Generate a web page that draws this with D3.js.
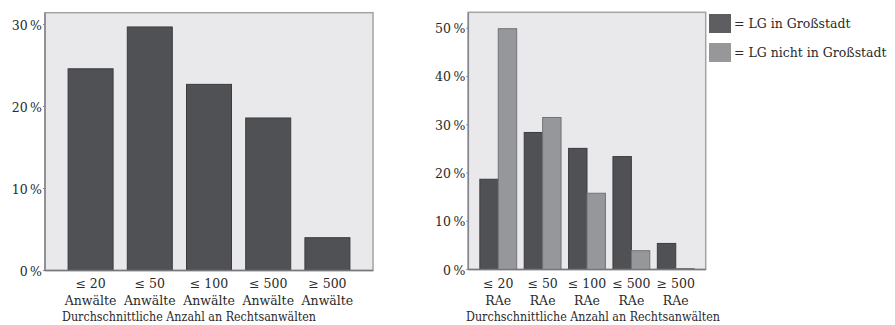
<!DOCTYPE html>
<html>
<head>
<meta charset="utf-8">
<script src="https://cdn.jsdelivr.net/npm/d3@7"></script>
<style>
  body { margin: 0; background: #fff; }
  text { font-family: "DejaVu Serif", serif; fill: #2a2a2a; }
</style>
</head>
<body>
<div id="chart-area"></div>
<script>
// left chart: share of firms by average number of lawyers
const leftCats = ['≤ 20', '≤ 50', '≤ 100', '≤ 500', '≥ 500'];
const leftValues = [24.6, 29.7, 22.7, 18.6, 4.0];
const leftTicks = [0, 10, 20, 30];

// right chart: LG in Großstadt vs. nicht in Großstadt
const rightCats = ['≤ 20', '≤ 50', '≤ 100', '≤ 500', '≥ 500'];
const rightGross = [18.7, 28.4, 25.1, 23.4, 5.4];
const rightNicht = [49.9, 31.5, 15.8, 3.9, 0.2];
const rightTicks = [0, 10, 20, 30, 40, 50];

const legendLabels = ['= LG in Großstadt', '= LG nicht in Großstadt'];
const xTitle = 'Durchschnittliche Anzahl an Rechtsanwälten';

const dark = '#505155', darkStroke = '#3b3c3f';
const light = '#96979b', lightStroke = '#727378';
const fs = 12.5;
const pct = d => d + '\u202F%';

const svg = d3.select('#chart-area').append('svg')
  .attr('width', 895)
  .attr('height', 325);

function frame(g, x0, x1, y0, y1) {
  g.append('rect')
    .attr('x', x0).attr('y', y0)
    .attr('width', x1 - x0).attr('height', y1 - y0)
    .attr('fill', '#e9e9eb')
    .attr('stroke', '#a3a3a6')
    .attr('stroke-width', 1.5);
}

function yAxis(g, y, ticks, x0) {
  g.append('line')
    .attr('x1', x0).attr('x2', x0)
    .attr('y1', y.range()[1]).attr('y2', y.range()[0])
    .attr('stroke', '#85858a').attr('stroke-width', 1.5);
  ticks.forEach(t => {
    g.append('line')
      .attr('x1', x0 - 2).attr('x2', x0)
      .attr('y1', y(t)).attr('y2', y(t))
      .attr('stroke', '#85858a');
    g.append('text')
      .attr('x', x0 - 3).attr('y', y(t) + 5)
      .attr('text-anchor', 'end')
      .attr('font-size', fs)
      .text(pct(t));
  });
}

function title(g, cx) {
  g.append('text').attr('x', cx - 127).attr('y', 321)
    .attr('font-size', fs)
    .attr('textLength', 254)
    .attr('lengthAdjust', 'spacingAndGlyphs')
    .text(xTitle);
}

// ---- left chart
const gl = svg.append('g');
const xl = d3.scaleBand()
  .domain(leftCats)
  .range([45, 373])
  .paddingInner(0.24)
  .paddingOuter(0.39);
const yl = d3.scaleLinear()
  .domain([0, 31.44])
  .range([270.5, 12.7]);

frame(gl, 45, 373, 12.7, 270.5);

gl.selectAll('rect.bar')
  .data(leftValues)
  .enter().append('rect')
    .attr('class', 'bar')
    .attr('x', (d, i) => xl(leftCats[i]))
    .attr('y', d => yl(d))
    .attr('width', xl.bandwidth())
    .attr('height', d => yl(0) - yl(d))
    .attr('fill', dark)
    .attr('stroke', darkStroke)
    .attr('stroke-width', 1);

yAxis(gl, yl, leftTicks, 45);
gl.append('line')
  .attr('x1', 45).attr('x2', 373)
  .attr('y1', yl(0)).attr('y2', yl(0))
  .attr('stroke', '#77777b').attr('stroke-width', 1.5);

leftCats.forEach(c => {
  const cx = xl(c) + xl.bandwidth() / 2;
  gl.append('text').attr('x', cx).attr('y', 288)
    .attr('text-anchor', 'middle').attr('font-size', fs).text(c);
  gl.append('text').attr('x', cx).attr('y', 305)
    .attr('text-anchor', 'middle').attr('font-size', fs).text('Anwälte');
});
title(gl, 189);

// ---- right chart
const gr = svg.append('g');
const xr = d3.scaleBand()
  .domain(rightCats)
  .range([468.3, 705.7])
  .paddingInner(0.17)
  .paddingOuter(0.26);
const xs = d3.scaleBand()
  .domain([0, 1])
  .range([0, xr.bandwidth()]);
const yr = d3.scaleLinear()
  .domain([0, 53.3])
  .range([269.5, 12.3]);

frame(gr, 468.3, 705.7, 12.3, 269.5);

const groups = gr.selectAll('g.grp')
  .data(rightCats.map((c, i) => ({ c, vals: [rightGross[i], rightNicht[i]] })))
  .enter().append('g')
    .attr('class', 'grp')
    .attr('transform', d => `translate(${xr(d.c)},0)`);

groups.selectAll('rect')
  .data(d => d.vals)
  .enter().append('rect')
    .attr('x', (d, i) => xs(i))
    .attr('y', d => yr(d))
    .attr('width', xs.bandwidth())
    .attr('height', d => yr(0) - yr(d))
    .attr('fill', (d, i) => i === 0 ? dark : light)
    .attr('stroke', (d, i) => i === 0 ? darkStroke : lightStroke)
    .attr('stroke-width', 1);

yAxis(gr, yr, rightTicks, 468.3);
gr.append('line')
  .attr('x1', 468.3).attr('x2', 705.7)
  .attr('y1', yr(0)).attr('y2', yr(0))
  .attr('stroke', '#77777b').attr('stroke-width', 1.5);

rightCats.forEach(c => {
  const cx = xr(c) + xr.bandwidth() / 2;
  gr.append('text').attr('x', cx).attr('y', 288)
    .attr('text-anchor', 'middle').attr('font-size', fs).text(c);
  gr.append('text').attr('x', cx).attr('y', 305)
    .attr('text-anchor', 'middle').attr('font-size', fs).text('RAe');
});
title(gr, 593);

// ---- legend
const legend = svg.append('g');
const legendColors = ['#5e5e61', '#97979a'];
legendLabels.forEach((l, i) => {
  legend.append('rect')
    .attr('x', 709).attr('y', 14 + i * 29)
    .attr('width', 22).attr('height', 19)
    .attr('fill', legendColors[i]);
  legend.append('text')
    .attr('x', 734).attr('y', 28 + i * 29)
    .attr('font-size', fs)
    .text(l);
});
</script>
</body>
</html>
